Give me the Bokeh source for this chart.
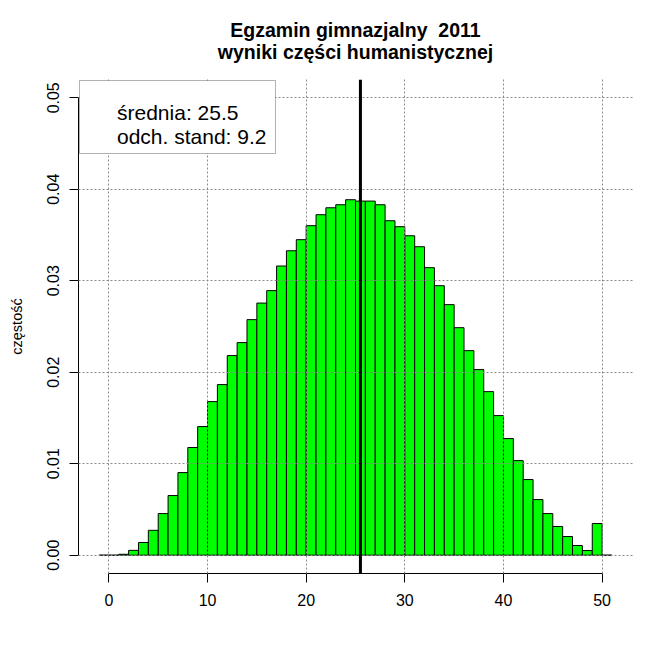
from bokeh.plotting import figure
from bokeh.models import (Range1d, FixedTicker, Span, BoxAnnotation, Label,
                          ColumnDataSource, Title)
from bokeh.embed import file_html
from bokeh.resources import INLINE

# ---- data ----
scores = list(range(0, 52))
freq = [0.0, 0.0, 0.0001, 0.00053, 0.00139, 0.00272, 0.00455, 0.00652, 0.00903,
        0.01177, 0.01406, 0.01679, 0.01865, 0.02182, 0.02324, 0.02575, 0.02756,
        0.02892, 0.03161, 0.03328, 0.03449, 0.03602, 0.03722, 0.03798, 0.03831,
        0.03886, 0.03871, 0.03871, 0.03831, 0.03656, 0.03591, 0.03492, 0.03372,
        0.03143, 0.02946, 0.02739, 0.02487, 0.02236, 0.02029, 0.01788, 0.01526,
        0.01275, 0.01034, 0.00827, 0.00608, 0.00455, 0.00314, 0.00204, 0.00106,
        0.00051, 0.00346, 0.0]
mean_score = 25.5
sd_score = 9.2
x_ticks = [0, 10, 20, 30, 40, 50]
y_ticks = [0.0, 0.01, 0.02, 0.03, 0.04, 0.05]
y_tick_labels = ["0.00", "0.01", "0.02", "0.03", "0.04", "0.05"]
title_lines = ["Egzamin gimnazjalny\u00a0 2011", "wyniki części humanistycznej"]
y_label = "częstość"
legend_lines = ["średnia: %.1f" % mean_score, "odch. stand: %.1f" % sd_score]

FONT = "Liberation Sans"

# ---- ranges with R-style 4% padding ----
lefts = [s - 1 for s in scores]
rights = [s for s in scores]
x0, x1 = min(lefts), max(rights)
y0, y1 = 0.0, max(y_ticks)
px = (x1 - x0) * 0.04
py = (y1 - y0) * 0.04

p = figure(width=672, height=672, output_backend="svg", toolbar_location=None,
           x_range=Range1d(x0 - px, x1 + px), y_range=Range1d(y0 - py, y1 + py),
           min_border_left=78, min_border_right=40, min_border_top=79,
           min_border_bottom=99)
p.outline_line_color = None
p.background_fill_color = "white"
p.border_fill_color = "white"

src = ColumnDataSource(dict(left=lefts, right=rights, top=freq,
                            bottom=[0.0] * len(freq)))
p.quad(left="left", right="right", top="top", bottom="bottom", source=src,
       fill_color="#00FF00", line_color="black", line_width=1)

# grid drawn above the bars like R's grid()
for g, t in ((p.xgrid, x_ticks), (p.ygrid, y_ticks)):
    g.ticker = FixedTicker(ticks=t)
    g.grid_line_color = "#8a8a8a"
    g.grid_line_dash = "2 2"
    g.grid_line_width = 1
    g.level = "guide"

# axes
xa = p.xaxis[0]
xa.ticker = FixedTicker(ticks=x_ticks)
xa.bounds = (min(x_ticks), max(x_ticks))
ya = p.yaxis[0]
ya.ticker = FixedTicker(ticks=y_ticks)
ya.bounds = (min(y_ticks), max(y_ticks))
ya.major_label_overrides = {t: l for t, l in zip(y_ticks, y_tick_labels)}
ya.major_label_orientation = "vertical"
for a in (xa, ya):
    a.axis_line_color = "black"
    a.major_tick_line_color = "black"
    a.major_tick_in = 0
    a.major_tick_out = 9
    a.minor_tick_line_color = None
    a.major_label_text_font = FONT
    a.major_label_text_font_size = "16px"
    a.major_label_text_color = "black"
    a.major_label_standoff = 10
xa.major_label_standoff = 11
ya.axis_label = y_label
ya.axis_label_text_font = FONT
ya.axis_label_text_font_size = "14.5px"
ya.axis_label_text_font_style = "normal"
ya.axis_label_text_color = "black"
ya.axis_label_standoff = 20

# mean line
p.add_layout(Span(location=mean_score, dimension="height", line_color="black",
                  line_width=3))

# legend box (top-left of plot region)
p.add_layout(BoxAnnotation(left=1, right=197, top=493, bottom=420,
                           left_units="screen", right_units="screen",
                           top_units="screen", bottom_units="screen",
                           fill_color="white", fill_alpha=1.0,
                           line_color="black", line_width=1, level="annotation"))
for txt, yy in zip(legend_lines, (461.5, 437)):
    p.add_layout(Label(x=38.5, y=yy, x_units="screen", y_units="screen",
                       text=txt, text_font=FONT, text_font_size="21px",
                       text_color="black", text_align="left",
                       text_baseline="alphabetic"))

# title: spacer nearest the plot, then the two centered bold lines
p.add_layout(Title(text="\u00a0", text_font_size="1px", standoff=15), "above")
p.add_layout(Title(text=title_lines[1], align="center", text_font=FONT,
                   text_font_size="19.5px", text_font_style="bold",
                   text_color="black", standoff=-3), "above")
p.add_layout(Title(text=title_lines[0], align="center", text_font=FONT,
                   text_font_size="19.5px", text_font_style="bold",
                   text_color="black", standoff=0, offset=-4), "above")

open("out.html", "w").write(file_html(p, INLINE))
